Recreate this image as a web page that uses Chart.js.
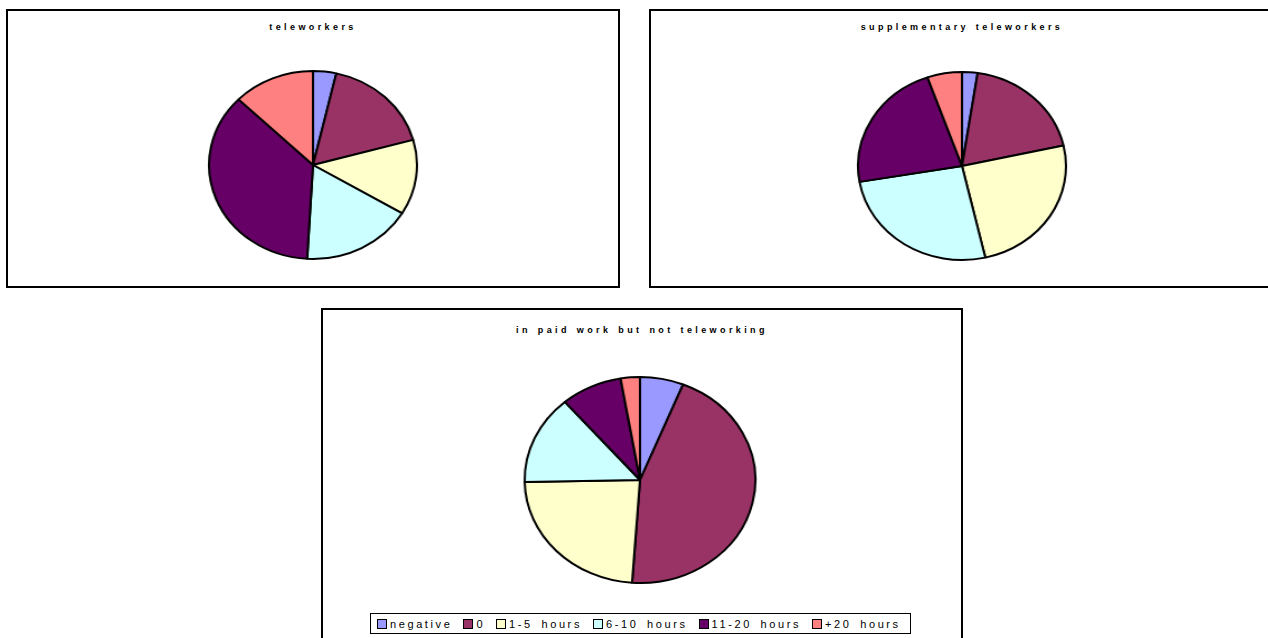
<!DOCTYPE html>
<html>
<head>
<meta charset="utf-8">
<script src="https://cdn.jsdelivr.net/npm/chart.js@4/dist/chart.umd.min.js"></script>
<style>
  body { margin: 0; background: #fff; width: 1268px; height: 638px; overflow: hidden; position: relative; font-family: "Liberation Sans", Arial, sans-serif; }
  .box { position: absolute; border: 2px solid #000; box-sizing: border-box; background: #fff; }
  .title { position: absolute; left: 0; right: 0; text-align: center; font-weight: bold; font-size: 9px; letter-spacing: 3.4px; word-spacing: 1px; color: #000; }
  .pie { position: absolute; transform-origin: 50% 50%; }
  .legend { position: absolute; border: 1px solid #000; box-sizing: border-box; display: flex; align-items: center; padding-left: 6px; font-size: 11px; letter-spacing: 2.6px; word-spacing: 3px; white-space: nowrap; }
  .legend span.sw { display: inline-block; width: 8px; height: 8px; border: 1px solid #000; margin-right: 3px; vertical-align: -1px; }
  .legend .item { margin-right: 11px; }
</style>
</head>
<body>

<div class="box" style="left:6px; top:9px; width:614px; height:279px;">
  <div class="title" style="top:11px;">teleworkers</div>
</div>
<div class="box" style="left:649px; top:9px; width:626px; height:279px;">
  <div class="title" style="top:11px;">supplementary teleworkers</div>
</div>
<div class="box" style="left:321px; top:308px; width:642px; height:340px;">
  <div class="title" style="top:15px;">in paid work but not teleworking</div>
</div>

<div class="pie" style="left:217px; top:69px; width:192px; height:192px; transform:scaleX(1.106);"><canvas id="c1" width="192" height="192"></canvas></div>
<div class="pie" style="left:866px; top:70px; width:192px; height:192px; transform:scaleX(1.106);"><canvas id="c2" width="192" height="192"></canvas></div>
<div class="pie" style="left:535px; top:375px; width:210px; height:210px; transform:scaleX(1.12);"><canvas id="c3" width="210" height="210"></canvas></div>

<div class="legend" id="legend" style="left:370px; top:613px; width:541px; height:21px;"></div>

<script>
// hours categories and Excel-style fill colours
var categories = ['negative', '0', '1-5 hours', '6-10 hours', '11-20 hours', '+20 hours'];
var colours = ['#9999FF', '#993366', '#FFFFCC', '#CCFFFF', '#660066', '#FF8080'];

// shares (%) per group
var teleworkers = [3.6, 17.1, 12.9, 17.3, 36.4, 12.7];
var supplementary = [2.4, 19.1, 24.9, 25.9, 22.3, 5.4];
var notTeleworking = [6.1, 45.0, 23.6, 14.0, 8.6, 2.7];

function makePie(id, values) {
  var ctx = document.getElementById(id).getContext('2d');
  return new Chart(ctx, {
    type: 'pie',
    data: {
      labels: categories,
      datasets: [{
        data: values,
        backgroundColor: colours,
        borderColor: '#000',
        borderWidth: 2
      }]
    },
    options: {
      responsive: false,
      animation: false,
      layout: { padding: 1 },
      plugins: {
        legend: { display: false },
        tooltip: { enabled: false },
        title: { display: false }
      }
    }
  });
}

makePie('c1', teleworkers);
makePie('c2', supplementary);
makePie('c3', notTeleworking);

// legend row under the last pie
var legend = document.getElementById('legend');
categories.forEach(function(name, i) {
  var item = document.createElement('span');
  item.className = 'item';
  item.innerHTML = '<span class="sw" style="background:' + colours[i] + '"></span>' + name;
  legend.appendChild(item);
});
</script>
</body>
</html>
